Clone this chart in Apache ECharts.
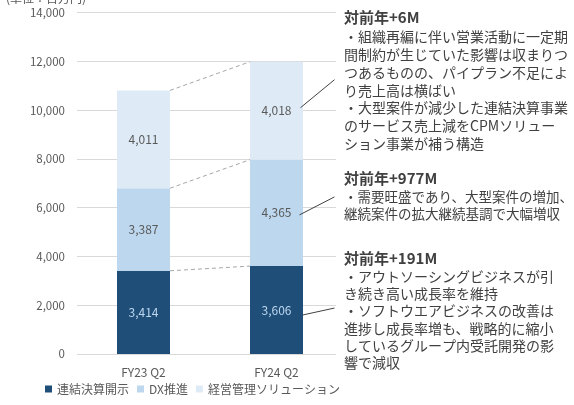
<!DOCTYPE html>
<html>
<head>
<meta charset="utf-8">
<script src="https://cdn.jsdelivr.net/npm/echarts@6/dist/echarts.min.js"></script>
<style>
html,body{margin:0;padding:0;background:#fff;}
#main{width:574px;height:405px;}
</style>
</head>
<body>
<div id="main"></div>
<script>
const categories = ['FY23 Q2', 'FY24 Q2'];
const seriesNames = ['連結決算開示', 'DX推進', '経営管理ソリューション'];
const consolidated = [3414, 3606];
const dxPromotion = [3387, 4365];
const mgmtSolution = [4011, 4018];
const yTicks = { min: 0, max: 14000, interval: 2000 };
const unitLabel = '(単位：百万円)';
const notes = [
  { title: '対前年+6M', lines: ['・組織再編に伴い営業活動に一定期', '間制約が生じていた影響は収まりつ', 'つあるものの、パイプラン不足によ', 'り売上高は横ばい', '・大型案件が減少した連結決算事業', 'のサービス売上減をCPMソリュー', 'ション事業が補う構造'] },
  { title: '対前年+977M', lines: ['・需要旺盛であり、大型案件の増加、', '継続案件の拡大継続基調で大幅増収'] },
  { title: '対前年+191M', lines: ['・アウトソーシングビジネスが引', 'き続き高い成長率を維持', '・ソフトウエアビジネスの改善は', '進捗し成長率増も、戦略的に縮小', 'しているグループ内受託開発の影', '響で減収'] }
];

const FONT = '"Noto Sans CJK JP", "Noto Sans", sans-serif';
const colors = ['#1f4e79', '#bdd7ee', '#deebf7'];
const fmt = v => String(v).replace(/\B(?=(\d{3})+(?!\d))/g, ',');

const chart = echarts.init(document.getElementById('main'), null, { renderer: 'canvas' });
const dataSets = [consolidated, dxPromotion, mgmtSolution];
const BAR_W = 53;

const option = {
  animation: false,
  textStyle: { fontFamily: FONT },
  grid: { left: 77, right: 231, top: 12.7, bottom: 51, containLabel: false },
  legend: {
    left: 45, top: 383, padding: 0,
    itemWidth: 7, itemHeight: 7, itemGap: 8,
    icon: 'rect',
    data: seriesNames,
    textStyle: { color: '#595959', fontSize: 12, fontFamily: FONT }
  },
  xAxis: {
    type: 'category', data: categories,
    axisLine: { show: false }, axisTick: { show: false },
    axisLabel: { color: '#595959', fontSize: 12, margin: 12, fontFamily: FONT }
  },
  yAxis: {
    type: 'value', min: yTicks.min, max: yTicks.max, interval: yTicks.interval,
    axisLine: { show: false }, axisTick: { show: false },
    axisLabel: { color: '#595959', fontSize: 11.5, margin: 12, fontFamily: FONT, formatter: v => fmt(v) },
    splitLine: { lineStyle: { color: '#d9d9d9', width: 1 } }
  },
  series: seriesNames.map((name, i) => ({
    name, type: 'bar', stack: 'total', barWidth: BAR_W,
    data: dataSets[i],
    itemStyle: { color: colors[i] },
    label: {
      show: true, position: 'inside', formatter: p => fmt(p.value),
      color: i === 0 ? '#bdd7ee' : '#595959', fontSize: 12, fontFamily: FONT
    }
  }))
};
chart.setOption(option);

const graphics = [];
graphics.push({ type: 'rect', z: 90, shape: { x: 336, y: 0, width: 12, height: 360 }, style: { fill: '#fff' } });

let cumA = 0, cumB = 0;
for (let i = 0; i < dataSets.length; i++) {
  cumA += dataSets[i][0];
  cumB += dataSets[i][1];
  const pA = chart.convertToPixel({ seriesIndex: 0 }, [categories[0], cumA]);
  const pB = chart.convertToPixel({ seriesIndex: 0 }, [categories[1], cumB]);
  graphics.push({
    type: 'line', z: 100,
    shape: { x1: pA[0] + BAR_W / 2, y1: pA[1], x2: pB[0] - BAR_W / 2, y2: pB[1] },
    style: { stroke: '#a6a6a6', lineWidth: 1, lineDash: [4, 3] }
  });
}

let base = 0;
const mids = [];
for (let i = 0; i < dataSets.length; i++) {
  mids.push(base + dataSets[i][1] / 2);
  base += dataSets[i][1];
}
const segOrder = [2, 1, 0];
segOrder.forEach((seg, k) => {
  const p = chart.convertToPixel({ seriesIndex: 0 }, [categories[1], mids[seg]]);
  let x1, y1, x2, y2;
  if (k === 0) { x1 = p[0] + 24; y1 = p[1] - 3; x2 = p[0] + 58; y2 = p[1] - 31; }
  else if (k === 1) { x1 = p[0] + 23; y1 = p[1] + 2; x2 = p[0] + 58; y2 = p[1] - 16; }
  else { x1 = p[0] + 26; y1 = p[1] + 5; x2 = p[0] + 58; y2 = p[1] - 2; }
  graphics.push({
    type: 'line', z: 100,
    shape: { x1, y1, x2, y2 },
    style: { stroke: '#404040', lineWidth: 1 }
  });
});

graphics.push({
  type: 'text', z: 100, x: 6, y: -8,
  style: { text: unitLabel, fill: '#595959', font: '12px ' + FONT }
});

const blockTops = [7, 169, 248];
const bodySizes = [14, 13.5, 14];
const titleLH = [21, 19, 20];
const bodyLH = [17.8, 17.5, 17.2];
notes.forEach((n, i) => {
  const text = '{t|' + n.title + '}\n' + n.lines.map(l => '{b|' + l + '}').join('\n');
  graphics.push({
    type: 'text', z: 100, x: 344, y: blockTops[i],
    style: {
      text,
      fill: '#404040',
      font: '14px ' + FONT,
      rich: {
        t: { fontSize: 15, fontWeight: 'bold', lineHeight: titleLH[i], fill: '#404040', fontFamily: FONT },
        b: { fontSize: bodySizes[i], lineHeight: bodyLH[i], fill: '#404040', fontFamily: FONT }
      }
    }
  });
});

chart.setOption({ graphic: graphics });
</script>
</body>
</html>
